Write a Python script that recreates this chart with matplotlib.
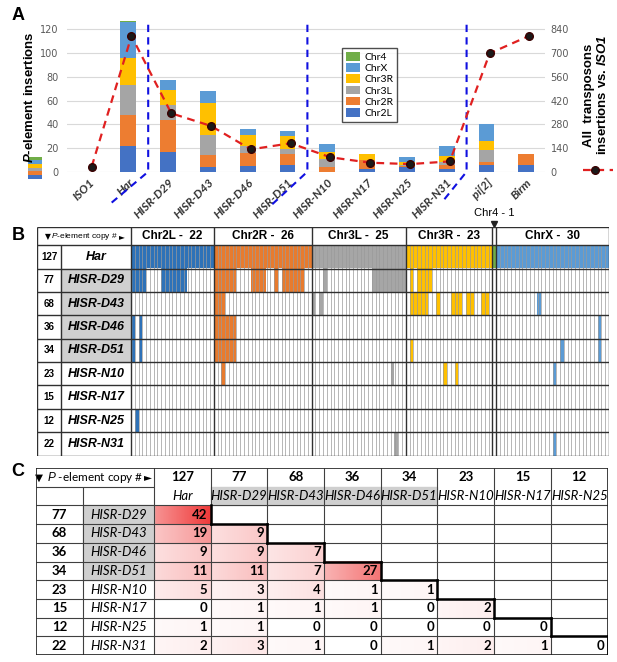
import numpy as np
import matplotlib
matplotlib.use('Agg')
import matplotlib.pyplot as plt
from matplotlib.patches import Rectangle
from matplotlib.lines import Line2D
from matplotlib.colors import to_rgb

plt.rcParams['mathtext.fontset'] = 'custom'
plt.rcParams['mathtext.it'] = 'Liberation Sans:italic'
plt.rcParams['mathtext.bf'] = 'Liberation Sans:italic:bold'

# ---------------- panel A data
strains = ['ISO1', 'Har', 'HISR-D29', 'HISR-D43', 'HISR-D46', 'HISR-D51',
           'HISR-N10', 'HISR-N17', 'HISR-N25', 'HISR-N31', 'pi[2]', 'Birm']
chr2L = [0, 22, 17, 4, 5, 6, 0, 2, 4, 2, 6, 6]
chr2R = [0, 26, 27, 10, 11, 9, 4, 8, 1, 4, 2, 9]
chr3L = [0, 25, 12, 17, 6, 4, 7, 0, 1, 2, 10, 0]
chr3R = [0, 23, 13, 27, 9, 11, 6, 5, 2, 5, 8, 0]
chrX = [0, 30, 8, 10, 5, 4, 6, 0, 4, 9, 14, 0]
chr4 = [0, 1, 0, 0, 0, 0, 0, 0, 0, 0, 0.5, 0]
all_te = [30, 801, 345, 270, 132, 168, 85, 53, 45, 61, 699, 803]
left_ticks = [0, 20, 40, 60, 80, 100, 120]
right_ticks = [0, 140, 280, 420, 560, 700, 840]
# dashed group separators: position, and end of the slanted tail below the axis
sep_x = [1.5, 5.5, 9.5]
sep_tail = [(0.55, -27), (4.6, -28), (8.9, -25)]
icon_vals = [3.5, 3, 3, 3, 3, 2.5]

# ---------------- panel B data
chrom_names = ['Chr2L', 'Chr2R', 'Chr3L', 'Chr3R', 'Chr4', 'ChrX']
chrom_counts = [22, 26, 25, 23, 1, 30]
b_rows = ['Har', 'HISR-D29', 'HISR-D43', 'HISR-D46', 'HISR-D51',
          'HISR-N10', 'HISR-N17', 'HISR-N25', 'HISR-N31']
b_copies = [127, 77, 68, 36, 34, 23, 15, 12, 22]
b_runs = {
    'Har': [(0, 127)],
    'HISR-D29': [(0, 4), (8, 15), (22, 28), (32, 36), (38, 39), (40, 46),
                 (51, 52), (64, 73), (74, 75), (76, 80)],
    'HISR-D43': [(22, 25), (48, 49), (50, 51), (74, 79), (81, 82), (85, 88),
                 (89, 91), (93, 95), (108, 109)],
    'HISR-D46': [(0, 1), (2, 3), (22, 28), (124, 125)],
    'HISR-D51': [(0, 1), (2, 3), (22, 28), (74, 75), (114, 115), (124, 125)],
    'HISR-N10': [(24, 25), (69, 70), (83, 84), (86, 87), (112, 113)],
    'HISR-N17': [],
    'HISR-N25': [(1, 2)],
    'HISR-N31': [(70, 71), (112, 113)],
}
gray_rows = ['HISR-D29', 'HISR-D43', 'HISR-D46', 'HISR-D51']

# ---------------- panel C data
c_rows = ['HISR-D29', 'HISR-D43', 'HISR-D46', 'HISR-D51',
          'HISR-N10', 'HISR-N17', 'HISR-N25', 'HISR-N31']
c_row_copies = [77, 68, 36, 34, 23, 15, 12, 22]
c_cols = ['Har', 'HISR-D29', 'HISR-D43', 'HISR-D46', 'HISR-D51',
          'HISR-N10', 'HISR-N17', 'HISR-N25']
c_col_copies = [127, 77, 68, 36, 34, 23, 15, 12]
shared = [[42],
          [19, 9],
          [9, 9, 7],
          [11, 11, 7, 27],
          [5, 3, 4, 1, 1],
          [0, 1, 1, 1, 0, 2],
          [1, 1, 0, 0, 0, 0, 0],
          [2, 3, 1, 0, 1, 2, 1, 0]]

a_colors = ['#4472c4', '#ed7d31', '#a5a5a5', '#ffc000', '#5b9bd5', '#70ad47']
b_colors = ['#2e72b8', '#e87b2e', '#a6a6a6', '#ffc000', '#70ad47', '#5b9bd5']

W, H = 617, 662
fig = plt.figure(figsize=(W / 100, H / 100), dpi=100)
fig.patch.set_facecolor('white')

def fx(px):
    return px / W

def fy(py):
    return 1 - py / H

# ================= panel A
ax = fig.add_axes([fx(67), fy(171.7), fx(545 - 67), (171.7 - 20) / H])
x = np.arange(len(strains))
stack = [chr2L, chr2R, chr3L, chr3R, chrX, chr4]
names_a = ['Chr2L', 'Chr2R', 'Chr3L', 'Chr3R', 'ChrX', 'Chr4']
col_a = a_colors
bottom = np.zeros(len(strains))
handles = []
for vals, nm, cc in zip(stack, names_a, col_a):
    h = ax.bar(x, vals, 0.4, bottom=bottom, color=cc, zorder=2, label=nm)
    handles.append(h)
    bottom = bottom + np.array(vals)

# tiny stacked key left of the axis
ib = -6.0
for v, cc in zip(icon_vals, col_a):
    ax.bar(-1.35, v, 0.35, bottom=ib, color=cc, clip_on=False, zorder=2)
    ib += v

ax.set_xlim(-0.54, 11.47)
ax.set_ylim(0, 128)
ax.set_yticks(left_ticks)
ax.yaxis.grid(True, color='#d9d9d9', lw=0.8, zorder=0)
ax.set_axisbelow(True)
for s in ax.spines.values():
    s.set_visible(False)
ax.tick_params(axis='both', length=0, labelsize=7, labelcolor='#595959')
ax.tick_params(axis='y', pad=6)
ax.set_xticks(x)
ax.set_xticklabels(strains, rotation=45, ha='right', rotation_mode='anchor',
                   fontstyle='italic', fontweight='bold', fontsize=8.5,
                   color='#333333', family='Lato')

for sx, (tx, ty) in zip(sep_x, sep_tail):
    ax.plot([sx, sx, tx], [124, 0, ty], color='#1010e0', lw=1.5,
            ls=(0, (3.5, 2.5)), clip_on=False, zorder=3)

leg = ax.legend(handles[::-1], names_a[::-1], loc='upper left',
                bbox_to_anchor=(0.565, 0.85), frameon=True, fancybox=False,
                edgecolor='#222222', handlelength=1.3,
                handleheight=0.9, labelspacing=0.12, borderpad=0.4,
                handletextpad=0.4, prop={'family': 'Lato', 'size': 7.5})
leg.get_frame().set_linewidth(1.0)

ax2 = ax.twinx()
ax2.set_ylim(0, 128 * 7)
ax2.set_yticks(right_ticks)
for s in ax2.spines.values():
    s.set_visible(False)
ax2.tick_params(axis='y', length=0, labelsize=7, labelcolor='#595959', pad=4)
ax2.plot(x + 0.08, all_te, color='#e02020', lw=1.6, ls=(0, (3.5, 2.5)),
         marker='o', ms=5.5, mfc='#1a1a1a', mec='#3a0000', zorder=4)

fig.text(fx(30), fy(97), r'$\mathbf{P}$-element insertions', rotation=90,
         ha='center', va='center', fontsize=9.5, fontweight='bold',
         family='Liberation Sans')
fig.text(fx(596), fy(95), 'All  transposons\ninsertions vs. $\\mathbf{ISO1}$',
         rotation=90, ha='center', va='center', fontsize=9.5,
         fontweight='bold', family='Liberation Sans', linespacing=1.15)
fig.add_artist(Line2D([fx(583), fx(613)], [fy(170), fy(170)],
                      transform=fig.transFigure, color='#e02020', lw=1.6,
                      ls=(0, (3.5, 2.5))))
fig.add_artist(Line2D([fx(595)], [fy(170)], transform=fig.transFigure,
                      marker='o', ms=5.5, mfc='#1a1a1a', mec='#3a0000'))

# ================= panel B
n_cols = sum(chrom_counts)
axb = fig.add_axes([fx(37), fy(455.6), fx(572), 228.6 / H])
axb.set_xlim(-25, n_cols)
axb.set_ylim(len(b_rows), -0.78)
axb.axis('off')

chrom_of_col = np.repeat(np.arange(len(chrom_counts)), chrom_counts)
img = np.ones((len(b_rows), n_cols, 3))
for r, nm in enumerate(b_rows):
    for a, b in b_runs[nm]:
        for c in range(a, b):
            img[r, c] = to_rgb(b_colors[chrom_of_col[c]])
axb.imshow(img, extent=(0, n_cols, len(b_rows), 0), aspect='auto',
           interpolation='nearest', zorder=1)

for r, nm in enumerate(b_rows):
    if nm in gray_rows:
        axb.add_patch(Rectangle((-18.5, r), 18.5, 1, color='#d0d0d0', zorder=1))
    axb.text(-21.75, r + 0.5, str(b_copies[r]), ha='center', va='center',
             fontsize=7, fontweight='bold', family='Liberation Sans', zorder=5)
    axb.text(-9.25, r + 0.5, nm, ha='center', va='center', fontsize=9,
             fontweight='bold', fontstyle='italic', family='Liberation Sans',
             zorder=5)

axb.vlines(np.arange(0, n_cols + 1), 0, len(b_rows), colors='#9a9a9a',
           lw=0.5, zorder=2)
bounds = np.concatenate([[0], np.cumsum(chrom_counts)])
axb.vlines(bounds, -0.78, len(b_rows), colors='#303030', lw=1.0, zorder=3)
axb.vlines([-25], -0.78, len(b_rows), colors='#303030', lw=1.0, zorder=3)
axb.vlines([-18.5], 0, len(b_rows), colors='#303030', lw=1.0, zorder=3)
axb.hlines(np.arange(0, len(b_rows) + 1), -25, n_cols, colors='#303030',
           lw=1.0, zorder=3)
axb.hlines([-0.78], -25, n_cols, colors='#303030', lw=1.0, zorder=3)

for i, (nm, cnt) in enumerate(zip(chrom_names, chrom_counts)):
    if nm == 'Chr4':
        continue
    axb.text((bounds[i] + bounds[i + 1]) / 2, -0.39, f'{nm} -  {cnt}',
             ha='center', va='center', fontsize=8.5, fontweight='bold',
             family='Liberation Sans')
c4 = chrom_names.index('Chr4')
c4x = (bounds[c4] + bounds[c4 + 1]) / 2
axb.text(c4x, -1.38, f'Chr4 - {chrom_counts[c4]}', ha='center', va='center',
         fontsize=8, family='Liberation Sans')
axb.plot([c4x], [-0.9], marker='v', color='#222222', ms=5, clip_on=False)

tb = axb.text(-12.3, -0.39, r'$\it{P}$-element copy #', ha='center',
              va='center', fontsize=6, family='Liberation Sans')
axb.annotate('▼', xy=(0, 0.5), xycoords=tb, xytext=(-0.5, 0),
             textcoords='offset points', ha='right', va='center',
             fontsize=5.5, family='DejaVu Sans')
axb.annotate('►', xy=(1, 0.5), xycoords=tb, xytext=(0.5, 0),
             textcoords='offset points', ha='left', va='center',
             fontsize=5.5, family='DejaVu Sans')

# ================= panel C
n_c = len(c_cols)
axc = fig.add_axes([fx(36), fy(655), fx(571.6), 187 / H])
axc.axis('off')

red = np.array([0.94, 0.23, 0.23])
vmax = max(max(r) for r in shared)
for i, rowv in enumerate(shared):
    for j, v in enumerate(rowv):
        f = (v / vmax) ** 0.8
        if v > 0:
            grad = np.linspace(0.55, 1.0, 24)[None, :, None] * f
            cells = 1 - grad * (1 - red[None, None, :])
            axc.imshow(cells, extent=(j, j + 1, i + 1, i), aspect='auto',
                       interpolation='bilinear', zorder=1)
        axc.text(j + 0.94, i + 0.5, str(v), ha='right', va='center',
                 fontsize=9.5, fontweight='bold', family='Lato', zorder=5)
axc.set_xlim(-2.08, n_c)
axc.set_ylim(len(c_rows), -2)

for i, nm in enumerate(c_rows):
    if nm in gray_rows:
        axc.add_patch(Rectangle((-1.25, i), 1.25, 1, color='#cfcfcf', zorder=1))
    axc.text(-1.665, i + 0.5, str(c_row_copies[i]), ha='center', va='center',
             fontsize=9.5, fontweight='bold', family='Lato', zorder=5)
    axc.text(-0.625, i + 0.5, nm, ha='center', va='center', fontsize=9.5,
             fontstyle='italic', family='Lato', zorder=5)
for j, nm in enumerate(c_cols):
    if nm in gray_rows:
        axc.add_patch(Rectangle((j, -1), 1, 1, color='#cfcfcf', zorder=1))
    axc.text(j + 0.5, -1.5, str(c_col_copies[j]), ha='center', va='center',
             fontsize=9.5, fontweight='bold', family='Lato', zorder=5)
    axc.text(j + 0.5, -0.5, nm, ha='center', va='center', fontsize=9.5,
             fontstyle='italic', family='Lato', zorder=5)

tc = axc.text(-1.04, -1.5, r'$\it{P}$ -element copy #', ha='center',
              va='center', fontsize=8.5, family='Lato')
axc.annotate('▼ ', xy=(0, 0.5), xycoords=tc, xytext=(-0.5, 0),
             textcoords='offset points', ha='right', va='center',
             fontsize=7.5, family='DejaVu Sans')
axc.annotate('►', xy=(1, 0.5), xycoords=tc, xytext=(0.5, 0),
             textcoords='offset points', ha='left', va='center',
             fontsize=7.5, family='DejaVu Sans')

gcol = '#404040'
axc.hlines(np.arange(0, len(c_rows) + 1), -2.08, n_c, colors=gcol, lw=0.8, zorder=3)
axc.hlines([-1], -2.08, 0, colors=gcol, lw=0.8, zorder=3)
axc.vlines(np.arange(0, n_c + 1), -2, len(c_rows), colors=gcol, lw=0.8, zorder=3)
axc.vlines([-1.25], -1, len(c_rows), colors=gcol, lw=0.8, zorder=3)
axc.add_patch(Rectangle((-2.08, -2), n_c + 2.08, len(c_rows) + 2, fill=False,
                        ec='#202020', lw=1.2, zorder=4))
for i in range(len(c_rows)):
    axc.plot([i + 1, i + 1], [i, i + 1], color='black', lw=1.8, zorder=4,
             solid_capstyle='projecting')
    if i + 2 <= n_c:
        axc.plot([i + 1, i + 2], [i + 1, i + 1], color='black', lw=1.8,
                 zorder=4, solid_capstyle='projecting')

for lab, py in zip(['A', 'B', 'C'], [16, 236, 472]):
    fig.text(fx(18), fy(py), lab, ha='center', va='center', fontsize=13,
             fontweight='bold', family='Liberation Sans')

fig.savefig('out.png', dpi=100, facecolor='white')
